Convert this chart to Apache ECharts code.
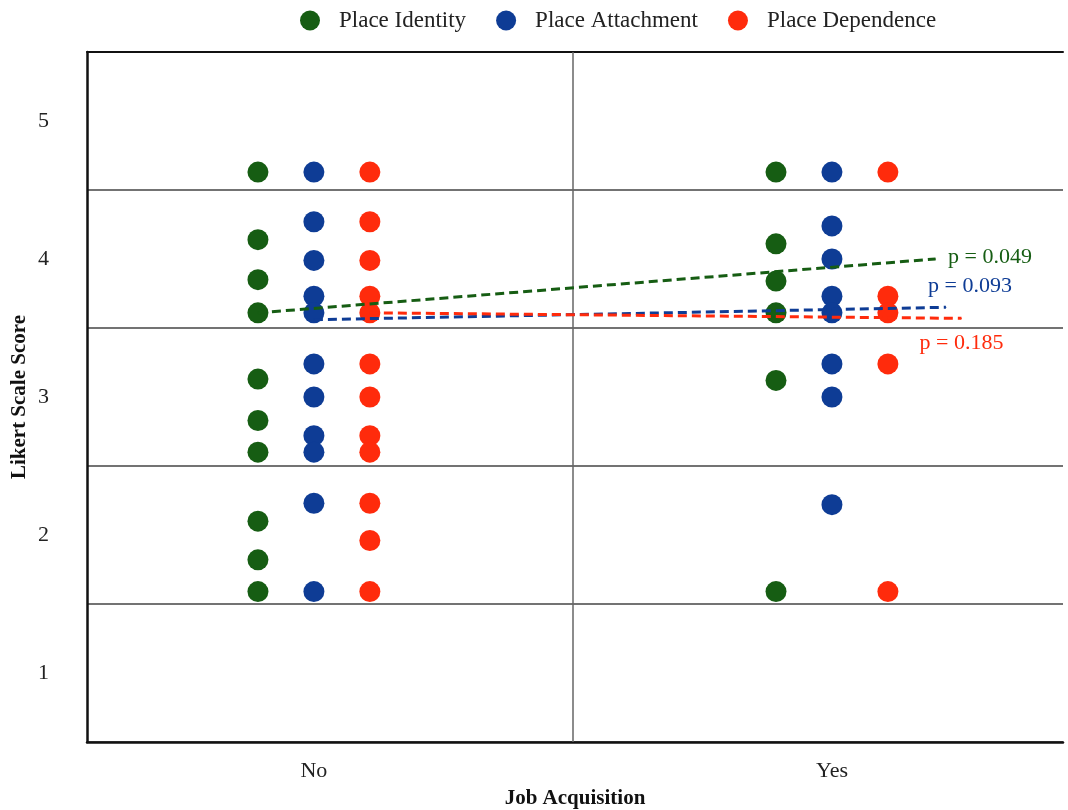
<!DOCTYPE html>
<html>
<head>
<meta charset="utf-8">
<title>Likert Scale Score by Job Acquisition</title>
<script src="https://cdn.jsdelivr.net/npm/echarts@6/dist/echarts.min.js"></script>
<style>
	html, body {margin: 0; padding: 0; background: #fff;}
	#chart {width: 1068px; height: 810px;}
</style>
</head>
<body>
<div id="chart"></div>
<script type="text/javascript">
var categories = ['No', 'Yes'];
var seriesNames = ['Place Identity', 'Place Attachment', 'Place Dependence'];
var yTicks = [1, 2, 3, 4, 5];

var identityNo = [4.63, 4.14, 3.85, 3.61, 3.13, 2.83, 2.60, 2.10, 1.82, 1.59];
var identityYes = [4.63, 4.11, 3.84, 3.61, 3.12, 1.59];
var attachmentNo = [4.63, 4.27, 3.99, 3.73, 3.61, 3.24, 3.00, 2.72, 2.60, 2.23, 1.59];
var attachmentYes = [4.63, 4.24, 4.00, 3.73, 3.61, 3.24, 3.00, 2.22];
var dependenceNo = [4.63, 4.27, 3.99, 3.73, 3.61, 3.24, 3.00, 2.72, 2.60, 2.23, 1.96, 1.59];
var dependenceYes = [4.63, 3.73, 3.61, 3.24, 1.59];

// dashed trend lines: value at the "No" column, value where the line stops, and how far right it runs
var trendStart = [3.61, 3.56, 3.61];
var trendEnd = [4.00, 3.65, 3.57];
var trendReach = [2.20, 2.22, 2.25];
var pValues = ['0.049', '0.093', '0.185'];

var font = 'Liberation Serif';
var colors = ['#165d13', '#0e3c95', '#ff2b0c'];
var offsets = [-0.108, 0, 0.108];
var groups = [[identityNo, identityYes], [attachmentNo, attachmentYes], [dependenceNo, dependenceYes]];
var pLabelPos = [
	{position: 'right', distance: 12, offset: [0, -2]},
	{position: 'top', distance: 5, offset: [24, -5]},
	{position: 'bottom', distance: 5, offset: [0, 8]}
];

var series = [];
var each = function(arr, fn) { for (var i = 0; i < arr.length; i++) fn(i, arr[i]); };

each(seriesNames, function(k, name) {
	var data = [];
	each(groups[k], function(c, values) {
		each(values, function(j, v) {
			data.push([c + 1 + offsets[k], v]);
		});
	});
	var s = {
		name: name,
		type: 'scatter',
		symbol: 'circle',
		symbolSize: 21,
		itemStyle: {color: colors[k], opacity: 1},
		data: data,
		z: 3
	};
	if (k == 0) {
		s.markLine = {
			silent: true,
			symbol: 'none',
			label: {show: false},
			lineStyle: {color: '#666', width: 1.5, type: 'solid'},
			data: [{xAxis: 1.5}]
		};
	}
	series.push(s);
});

each(seriesNames, function(k, name) {
	series.push({
		name: name + ' trend',
		type: 'line',
		showSymbol: true,
		symbol: 'circle',
		symbolSize: 1,
		silent: true,
		z: 5,
		itemStyle: {color: colors[k]},
		lineStyle: {color: colors[k], width: 3, type: [9, 5]},
		data: [
			[1 + offsets[k], trendStart[k]],
			{
				value: [trendReach[k], trendEnd[k]],
				label: {
					show: true,
					position: pLabelPos[k].position,
					distance: pLabelPos[k].distance,
					offset: pLabelPos[k].offset,
					formatter: 'p = ' + pValues[k],
					color: colors[k],
					fontFamily: font,
					fontSize: 22
				}
			}
		]
	});
});

var chart = echarts.init(document.getElementById('chart'));
chart.setOption({
	animation: false,
	backgroundColor: '#fff',
	textStyle: {fontFamily: font},
	legend: {
		data: seriesNames,
		left: 295,
		top: 4,
		icon: 'circle',
		itemWidth: 20,
		itemHeight: 20,
		itemGap: 30,
		textStyle: {fontFamily: font, fontSize: 23, color: '#222', padding: [0, 0, 0, 14]}
	},
	grid: {left: 87, right: 5, top: 52, bottom: 68, outerBoundsMode: 'none'},
	xAxis: [{
		type: 'value',
		min: 0.562,
		max: 2.446,
		name: 'Job Acquisition',
		nameLocation: 'middle',
		nameGap: 46,
		nameTextStyle: {fontFamily: font, fontSize: 21, fontWeight: 'bold', color: '#111'},
		axisLine: {show: true, lineStyle: {color: '#111', width: 2.5}},
		axisTick: {show: false},
		splitLine: {show: false},
		axisLabel: {
			customValues: [1, 2],
			formatter: function(v) { return categories[Math.round(v) - 1]; },
			margin: 18,
			fontFamily: font,
			fontSize: 22,
			color: '#222'
		}
	}, {
		type: 'value',
		position: 'top',
		min: 0.562,
		max: 2.446,
		axisLine: {show: true, lineStyle: {color: '#111', width: 2}},
		axisTick: {show: false},
		axisLabel: {show: false},
		splitLine: {show: false}
	}],
	yAxis: {
		type: 'value',
		min: 0.5,
		max: 5.5,
		interval: 1,
		name: 'Likert Scale Score',
		nameLocation: 'middle',
		nameGap: 57,
		nameMoveOverlap: false,
		nameTextStyle: {fontFamily: font, fontSize: 21, fontWeight: 'bold', color: '#111'},
		axisLine: {show: true, lineStyle: {color: '#111', width: 2.5}},
		axisTick: {show: false},
		splitLine: {show: true, lineStyle: {color: '#444', width: 1.5}},
		axisLabel: {
			customValues: yTicks,
			margin: 38,
			fontFamily: font,
			fontSize: 22,
			color: '#222'
		}
	},
	series: series
});
</script>
</body>
</html>
